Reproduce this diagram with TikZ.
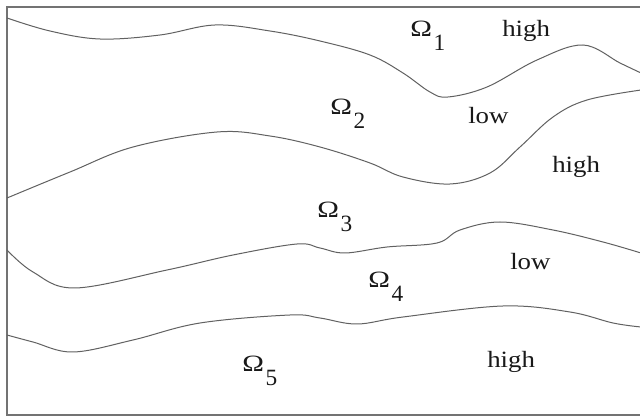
\documentclass[tikz,border=0pt]{standalone}
\usepackage{fontspec}
\setmainfont{Liberation Serif}
\newcommand\Wtxt[1]{\scalebox{1.15}[1]{#1}}
\newcommand\Omg[1]{\scalebox{1.25}[1]{Ω}\kern1.2pt\raisebox{-10.5pt}{#1}}
\begin{document}
\begin{tikzpicture}[x=0.75pt,y=-0.75pt]
\tikzset{
  frameline/.style={draw=black!55, line width=0.8pt},
  curveline/.style={draw=black!62, line width=0.75pt},
  lbl/.style={anchor=base west, inner sep=0pt, text=black!90, font=\fontsize{17.5}{20}\selectfont}
}
\useasboundingbox (0,0) rectangle (640,417);
\fill[white] (0,0) rectangle (640,417);
% frame
\coordinate (tr) at (641,7);
\coordinate (tl) at (7,7);
\coordinate (bl) at (7,415);
\coordinate (br) at (641,415);
\draw[frameline] (tr) -- (tl) -- (bl) -- (br);
% curves
\draw[curveline] plot[smooth, tension=0.6] coordinates {(7,18) (50,31) (100,39) (160,35) (215,25) (270,31) (320,41) (370,55) (403,73) (430,92) (448,97) (487,87) (537,60) (583,45) (620,63) (641,73)};
\draw[curveline] plot[smooth, tension=0.6] coordinates {(7,198) (70,172) (133,147) (217,132) (270,136) (320,147) (370,163) (403,177) (450,184) (490,173) (520,147) (553,117) (587,100) (641,90)};
\draw[curveline] plot[smooth, tension=0.6] coordinates {(7,250) (33,272) (75,288) (167,270) (233,255) (297,244) (320,248) (345,253) (387,247) (437,243) (460,230) (500,222) (553,230) (603,242) (641,253)};
\draw[curveline] plot[smooth, tension=0.6] coordinates {(7,335) (33,342) (73,352) (133,340) (200,323) (290,315) (320,318) (357,324) (403,317) (503,306) (570,312) (613,323) (641,327)};
% labels
\node[lbl] (o1) at (410,37) {\Omg{1}};
\node[lbl] (h1) at (502,37) {\Wtxt{high}};
\node[lbl] (o2) at (330,115) {\Omg{2}};
\node[lbl] (l1) at (468,124) {\Wtxt{low}};
\node[lbl] (h2) at (552,173) {\Wtxt{high}};
\node[lbl] (o3) at (317,218) {\Omg{3}};
\node[lbl] (l2) at (510,270) {\Wtxt{low}};
\node[lbl] (o4) at (368,288) {\Omg{4}};
\node[lbl] (o5) at (242,372) {\Omg{5}};
\node[lbl] (h3) at (487,368) {\Wtxt{high}};
\end{tikzpicture}
\end{document}
